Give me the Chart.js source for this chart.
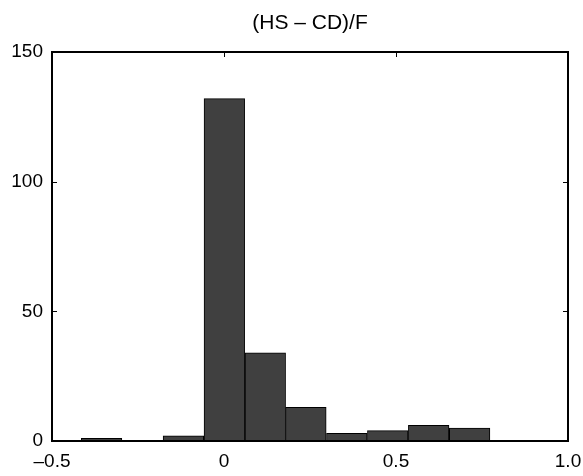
<!DOCTYPE html>
<html>
<head>
<meta charset="utf-8">
<script src="https://cdn.jsdelivr.net/npm/chart.js@4"></script>
<style>
  html, body { margin: 0; padding: 0; background: #fff; }
  #c { display: block; }
</style>
</head>
<body>
<canvas id="c" width="583" height="476"></canvas>
<script>
const chartTitle = '(HS \u2013 CD)/F';
const binCenters = [-0.356, -0.237, -0.118, 0.001, 0.120, 0.238, 0.357, 0.476, 0.595, 0.714];
const counts     = [1, 0, 2, 132, 34, 13, 3, 4, 6, 5];
const xTickValues = [-0.5, 0, 0.5, 1.0];
const xTickLabels = ['\u20130.5', '0', '0.5', '1.0'];
const yTickValues = [0, 50, 100, 150];

const FONT = "'Liberation Sans', Arial, Helvetica, sans-serif";

const framePlugin = {
  id: 'frame',
  beforeDatasetsDraw(chart) {
    const { ctx, chartArea: a, scales } = chart;
    ctx.save();
    ctx.strokeStyle = '#000';
    ctx.lineWidth = 1;
    const L = 5;
    ctx.beginPath();
    xTickValues.forEach(v => {
      const px = Math.round(scales.x.getPixelForValue(v)) + 0.5;
      if (px <= a.left + 1 || px >= a.right - 1) return;
      ctx.moveTo(px, a.top); ctx.lineTo(px, a.top + L);
      ctx.moveTo(px, a.bottom); ctx.lineTo(px, a.bottom - L);
    });
    yTickValues.forEach(v => {
      const py = Math.round(scales.y.getPixelForValue(v)) + 0.5;
      if (py <= a.top + 1 || py >= a.bottom - 1) return;
      ctx.moveTo(a.left, py); ctx.lineTo(a.left + L, py);
      ctx.moveTo(a.right, py); ctx.lineTo(a.right - L, py);
    });
    ctx.stroke();
    ctx.restore();
  },
  afterDatasetsDraw(chart) {
    const { ctx, chartArea: a } = chart;
    ctx.save();
    ctx.strokeStyle = '#000';
    ctx.lineWidth = 2;
    ctx.strokeRect(a.left, a.top, a.right - a.left, a.bottom - a.top);
    ctx.restore();
  },
  afterDraw(chart) {
    const { ctx, chartArea: a } = chart;
    ctx.save();
    ctx.fillStyle = '#000';
    ctx.font = '21px ' + FONT;
    ctx.textAlign = 'center';
    ctx.textBaseline = 'alphabetic';
    ctx.fillText(chartTitle, (a.left + a.right) / 2, 29);
    ctx.restore();
  }
};

new Chart(document.getElementById('c'), {
  type: 'bar',
  data: {
    datasets: [{
      data: binCenters.map((x, i) => ({ x: x, y: counts[i] })),
      backgroundColor: '#404040',
      borderColor: '#000',
      borderWidth: 1,
      barPercentage: 1,
      categoryPercentage: 1
    }]
  },
  options: {
    responsive: false,
    devicePixelRatio: 1,
    animation: false,
    layout: { padding: { right: 15, left: 0, bottom: 0, top: 52 } },
    plugins: {
      legend: { display: false },
      tooltip: { enabled: false },
      title: { display: false }
    },
    scales: {
      x: {
        type: 'linear',
        offset: false,
        min: -0.5,
        max: 1.0,
        afterBuildTicks(scale) { scale.ticks = xTickValues.map(v => ({ value: v })); },
        afterFit(scale) { scale.height = 35; scale.paddingLeft = 0; scale.paddingRight = 0; },
        grid: { display: false, drawTicks: false, tickLength: 0, offset: false },
        border: { display: false },
        ticks: {
          color: '#000',
          font: { family: FONT, size: 19 },
          padding: 9,
          maxRotation: 0,
          autoSkip: false,
          callback(v) { const i = xTickValues.indexOf(v); return i >= 0 ? xTickLabels[i] : ''; }
        }
      },
      y: {
        min: 0,
        max: 150,
        afterBuildTicks(scale) { scale.ticks = yTickValues.map(v => ({ value: v })); },
        afterFit(scale) { scale.width = 52; scale.paddingTop = 0; scale.paddingBottom = 0; },
        grid: { display: false, drawTicks: false, tickLength: 0 },
        border: { display: false },
        ticks: {
          color: '#000',
          font: { family: FONT, size: 19 },
          padding: 9
        }
      }
    }
  },
  plugins: [framePlugin]
});
</script>
</body>
</html>
